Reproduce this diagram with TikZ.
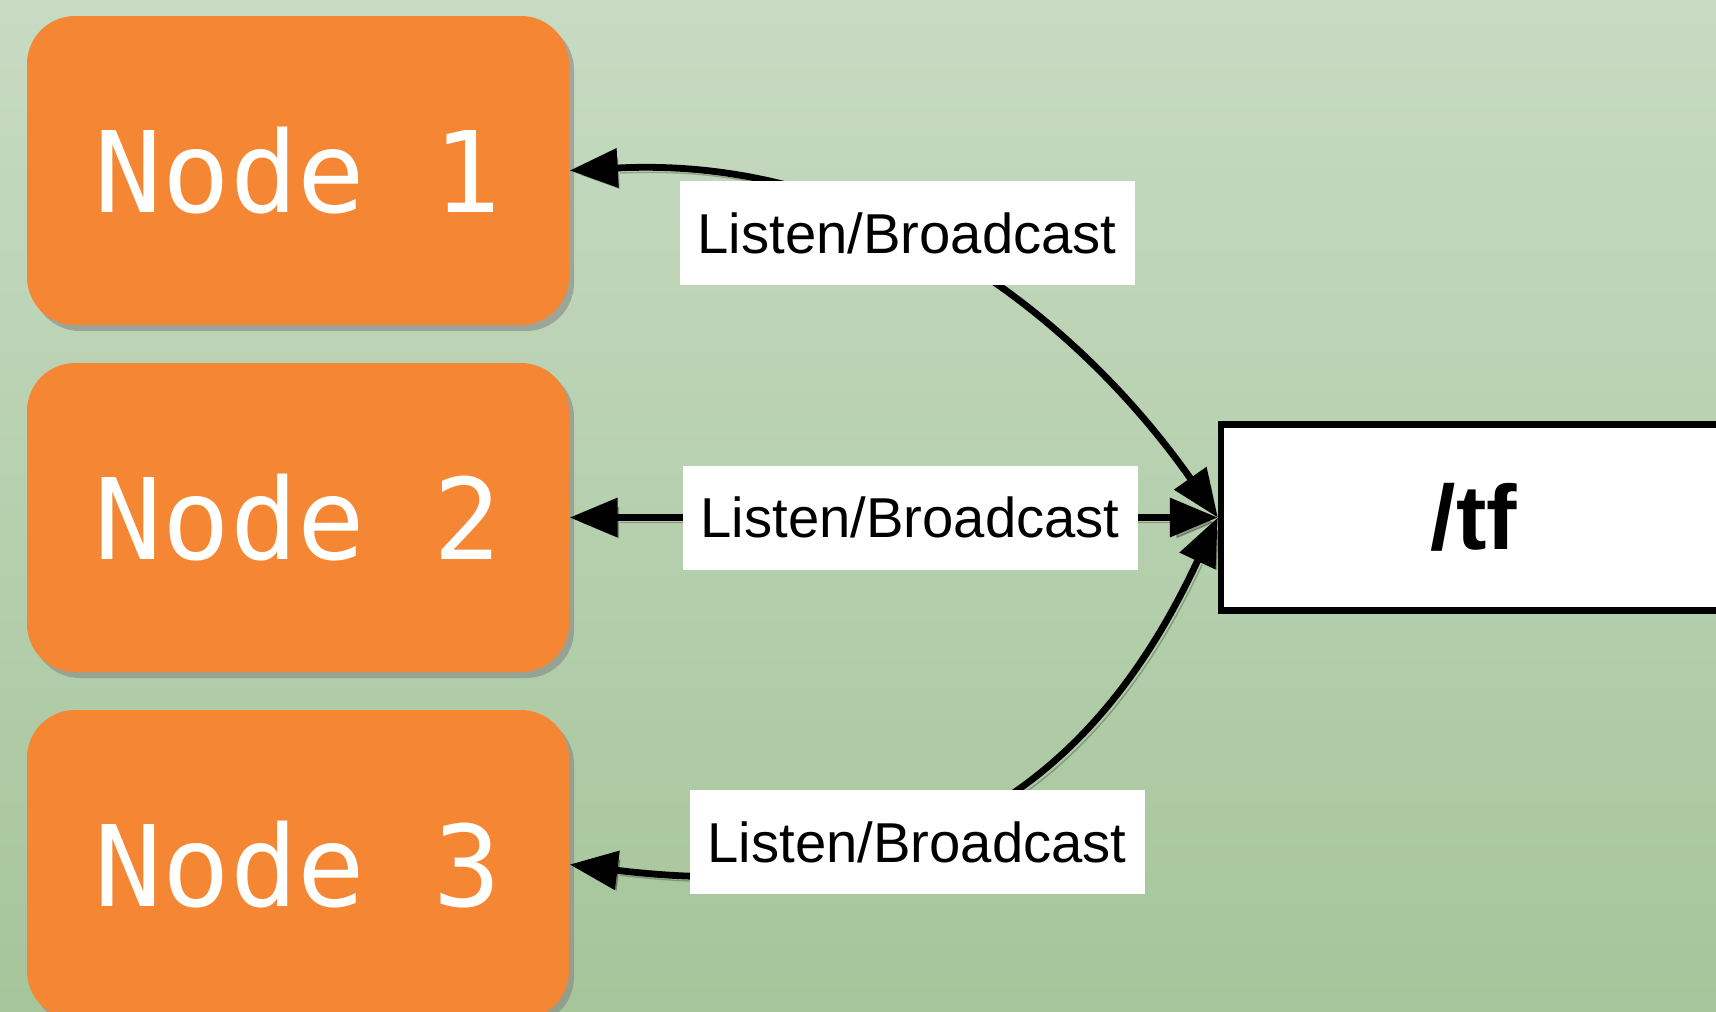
\documentclass[tikz,border=0pt]{standalone}
\usepackage{fontspec}
\setmainfont{Liberation Sans}
\newfontfamily\nodefont{DejaVu Sans Mono}
\usepackage{tikz}
\usetikzlibrary{arrows.meta, positioning, shadows}
\definecolor{bgtop}{RGB}{199,219,194}
\definecolor{bgbottom}{RGB}{166,197,155}
\definecolor{nodeorange}{RGB}{245,135,52}
\tikzset{
    myarrow/.style={<->, >={Triangle[length=4.8mm, width=3.8mm]}, line width=0.68mm,
        preaction={draw=black, opacity=0.25, transform canvas={shift={(0.4mm,-0.5mm)}}}},
    rosnode/.style={rectangle, rounded corners=4.8mm, fill=nodeorange, text=white,
        minimum width=54.2mm, minimum height=30.9mm, font=\nodefont\fontsize{32}{38}\selectfont,
        drop shadow={shadow xshift=0.5mm, shadow yshift=-0.6mm, opacity=0.55}},
    tagbox/.style={rectangle, fill=white, inner sep=0pt, minimum width=45.5mm, minimum height=10.4mm,
        font=\fontsize{16}{19}\selectfont},
    topicbox/.style={draw, rectangle, line width=0.65mm, fill=white, minimum width=50.6mm,
        minimum height=18.6mm, font=\bfseries\fontsize{26}{31}\selectfont}
}
\begin{document}
\begin{tikzpicture}[x=0.1mm, y=0.1mm, node distance=34.7mm]
    \shade [top color=bgtop, bottom color=bgbottom] (0,0) rectangle (1716,-1011);
    \useasboundingbox (0,0) rectangle (1716,-1011);
    \node (n1) [rosnode] at (298,-170.5) {Node 1};
    \node (n2) [rosnode, below of=n1] {Node 2};
    \node (n3) [rosnode, below of=n2] {Node 3};
    \node (tf) [topicbox] at (1474,-517.5) {/tf};
    \draw [myarrow] (n1.east) to[out=3, in=125, out distance=32mm, in distance=22mm] (tf.west);
    \draw [myarrow] (n2.east) -- (tf.west);
    \draw [myarrow] (n3.east) to[out=-7, in=245, out distance=40mm, in distance=24mm] (tf.west);
    \node (tag1) [tagbox] at (907,-233) {Listen/Broadcast};
    \node (tag2) [tagbox] at (910,-517.5) {Listen/Broadcast};
    \node (tag3) [tagbox] at (917,-842) {Listen/Broadcast};
\end{tikzpicture}
\end{document}
